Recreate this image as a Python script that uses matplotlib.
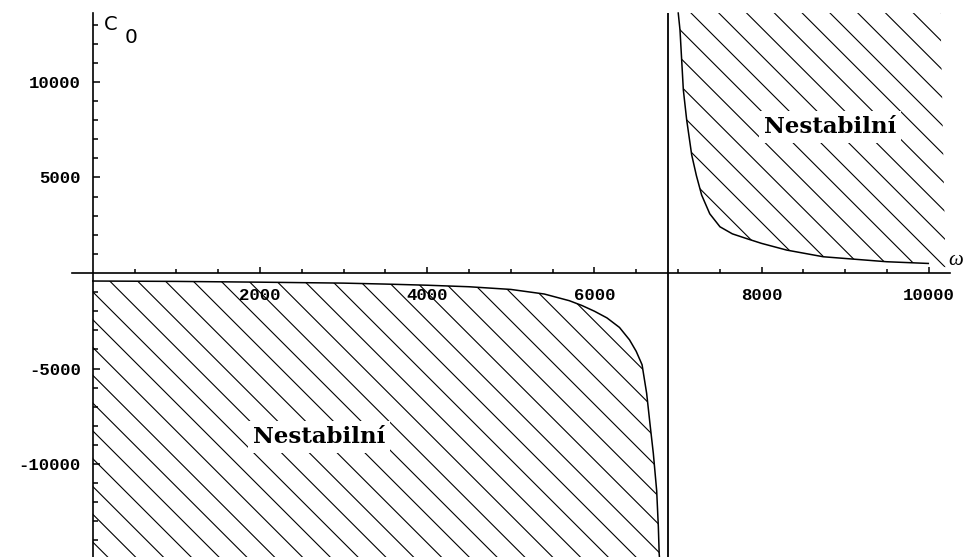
import numpy as np
import matplotlib.pyplot as plt
from matplotlib.collections import LineCollection
from matplotlib.patches import Polygon

plt.rcParams['axes.unicode_minus'] = False

# stability boundary C0(omega), left branch (below the axis)
omega_low = [0, 1000, 2000, 3000, 3500, 4000, 4500, 5000, 5400, 5700, 5850, 6000,
             6150, 6300, 6420, 6500, 6570, 6625, 6665, 6705, 6745, 6765, 6775, 6780]
c0_low = [-420, -440, -480, -530, -580, -640, -720, -860, -1100, -1450, -1700, -2000,
          -2350, -2850, -3500, -4100, -4800, -6300, -7900, -9450, -11400, -13300, -14700, -15000]

# right branch (above the axis)
omega_high = [7003, 7024, 7044, 7064, 7104, 7164, 7220, 7283, 7380, 7502, 7650,
              7822, 8000, 8300, 8738, 9496, 9994]
c0_high = [13610, 12720, 11150, 9580, 8010, 6180, 5100, 4080, 3100, 2420, 2050,
           1800, 1550, 1200, 850, 590, 500]

omega_pole = 6880
x_major = [2000, 4000, 6000, 8000, 10000]
x_minor = [v for v in range(500, 10001, 500) if v not in x_major]
y_major = [-10000, -5000, 5000, 10000]
y_minor = [v for v in range(-14000, 14000, 1000) if v not in y_major and v != 0]
region_label = "Nestabilní"

W, H = 967, 557
fig = plt.figure(figsize=(W / 100, H / 100), dpi=100)
ax = fig.add_axes([0, 0, 1, 1])
ax.set_xlim(-1110, 10457)
ax.set_ylim(-14869, 14293)
y_top, y_bot = 13610, -14869

for s in ['top', 'right']:
    ax.spines[s].set_visible(False)
ax.spines['left'].set_position(('data', 0))
ax.spines['bottom'].set_position(('data', 0))
ax.spines['left'].set_bounds(y_bot, y_top)
ax.spines['bottom'].set_bounds(-250, 10254)
for s in ['left', 'bottom']:
    ax.spines[s].set_linewidth(1.2)

ax.set_xticks(x_major)
ax.set_xticks(x_minor, minor=True)
ax.set_yticks(y_major)
ax.set_yticks(y_minor, minor=True)
ax.set_xticklabels([str(v) for v in x_major])
ax.set_yticklabels([str(v) for v in y_major])
tick_font = dict(family='Liberation Mono', weight='bold', size=12.5)
for lab in ax.get_xticklabels() + ax.get_yticklabels():
    lab.set_fontproperties(tick_font)
ax.tick_params(axis='x', which='major', direction='in', length=4.5, width=1.1, pad=11)
ax.tick_params(axis='x', which='minor', direction='in', length=3.2, width=1.1)
ax.tick_params(axis='y', which='major', direction='in', length=5, width=1.1, pad=8.5)
ax.tick_params(axis='y', which='minor', direction='in', length=3.5, width=1.1)


def hatch(verts, phase, step=27.8):
    # diagonal 45-degree hatching clipped to a region given in data coords
    patch = Polygon(verts, closed=True, facecolor='none', edgecolor='none')
    ax.add_patch(patch)
    segs = []
    for c in phase + step * np.arange(-60, 60):
        x0, x1 = -H, W + H
        segs.append([(x0 / W, 1 - (x0 + c) / H), (x1 / W, 1 - (x1 + c) / H)])
    lc = LineCollection(segs, colors='black', linewidths=0.8,
                        transform=ax.transAxes)
    ax.add_collection(lc, autolim=False)
    lc.set_clip_path(patch)


low_verts = list(zip(omega_low, c0_low)) + [(omega_low[-1], -16000), (0, -16000)]
hatch(low_verts, 254.7)
high_verts = list(zip(omega_high, c0_high)) + [(10200, 300), (10140, y_top)]
hatch(high_verts, -678)

ax.plot(omega_low, c0_low, color='black', lw=1.1)
ax.plot(omega_high, c0_high, color='black', lw=1.1)
ax.vlines(omega_pole, y_bot, y_top, color='black', lw=1.3)

ax.text(134, 13500, 'C', ha='left', va='top', fontsize=14, family='DejaVu Sans')
ax.text(385, 12830, '0', ha='left', va='top', fontsize=14.5, family='DejaVu Sans')
ax.text(10230, 420, 'ω', ha='left', va='baseline', fontsize=15,
        family='Liberation Serif', style='italic')

box = dict(boxstyle='square,pad=0.2', facecolor='white', edgecolor='none')
ax.text(2706, -8900, region_label, ha='center', va='baseline', fontsize=16.5,
        family='DejaVu Serif', weight='bold', bbox=box, zorder=5)
ax.text(8818, 7330, region_label, ha='center', va='baseline', fontsize=16.5,
        family='DejaVu Serif', weight='bold', bbox=box, zorder=5)

fig.savefig('out.png', dpi=100)
